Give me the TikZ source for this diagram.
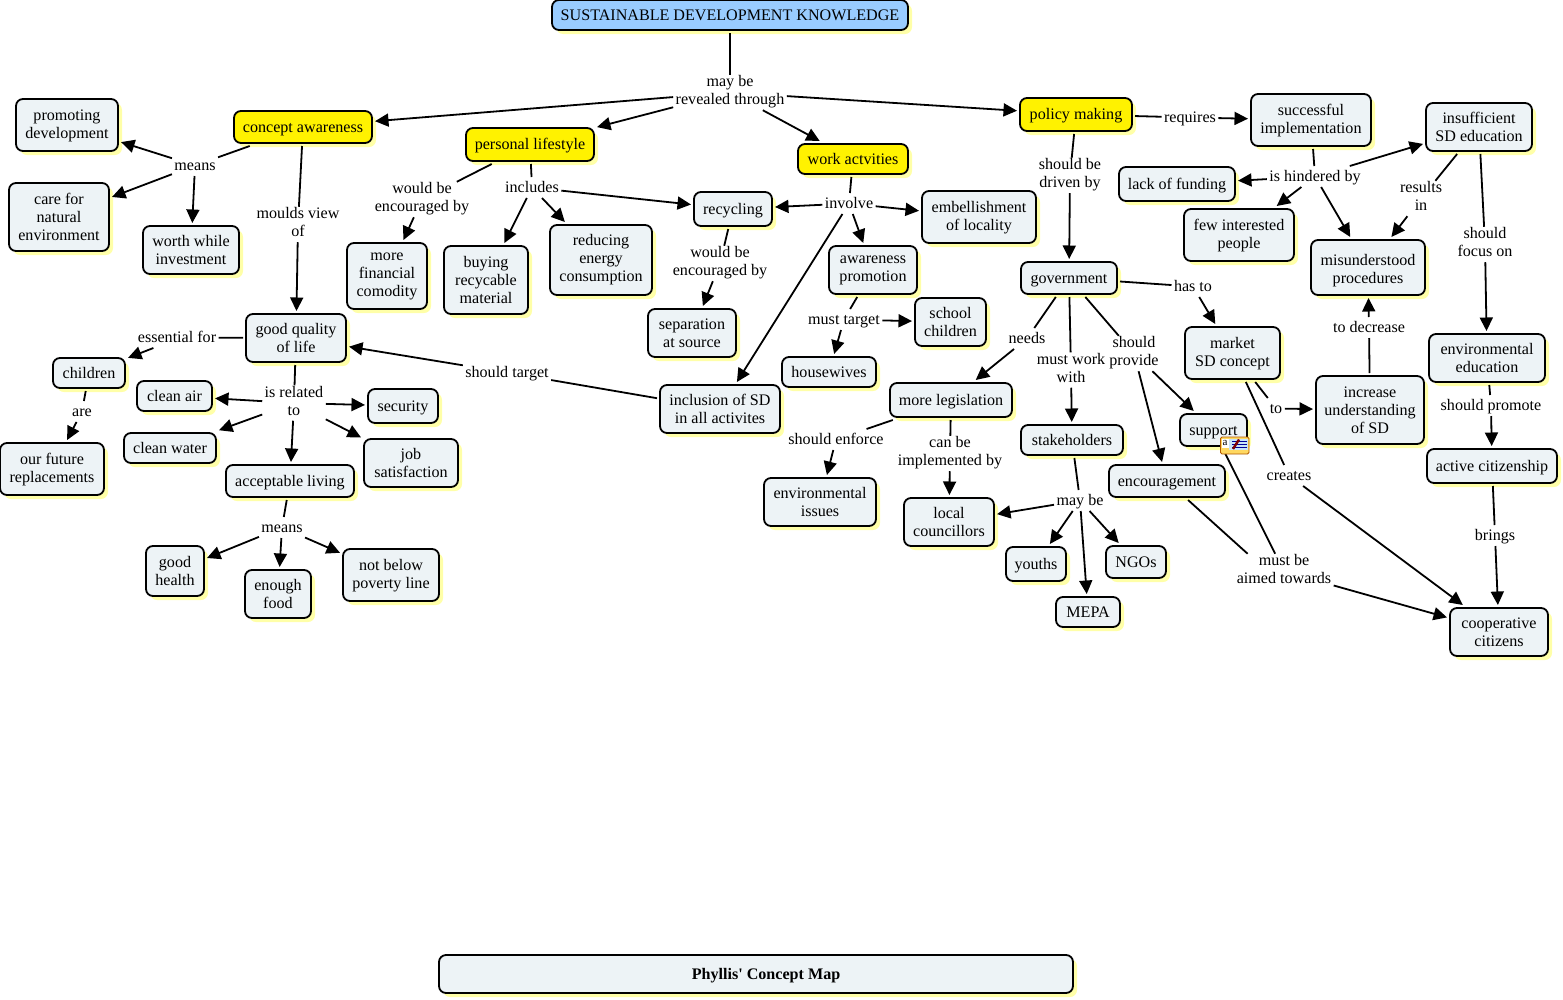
\documentclass[tikz,border=0pt]{standalone}
\usepackage{fontspec}
\newfontfamily\mapfont{Liberation Serif}
\usetikzlibrary{shadows, arrows.meta}
\definecolor{boxfill}{HTML}{EDF3F6}
\definecolor{boxshadow}{HTML}{FFFFA8}
\definecolor{topblue}{HTML}{99CCFF}
\definecolor{noteyellow}{HTML}{FFD860}
\definecolor{notepaper}{HTML}{C8E4F8}
\tikzset{
	linestruts/.style = {execute at begin node = {\rule{0pt}{14.7pt}}, execute at end node = {\rule[-4.3pt]{0pt}{4.3pt}}},
	twodown/.style = {text height = 29.7pt + 2pt * #1, text depth = 4.3pt},
	twodown/.default = 2,
	threedown/.style = {text height = 47.7pt + 2pt * #1, text depth = 4.3pt},
	threedown/.default = 2,
	mapbox/.style = {draw = black, line width = 1.8pt, rounded corners = 7pt, fill = boxfill, align = center,
		inner sep = 0pt, outer sep = 3pt, text = black, linestruts,
		general shadow = {fill = boxshadow, shadow xshift = 4pt, shadow yshift = -4pt}},
	size/.style 2 args = {minimum width = #1 pt, minimum height = #2 pt},
	linktext/.style = {align = center, inner sep = 0pt, outer xsep = 2.5pt, outer ysep = 1pt, linestruts},
	plain/.style = {line width = 1.8pt},
	tip/.style = {line width = 1.8pt, ->}
}
\begin{document}
\begin{tikzpicture}[x = 1pt, y = -1pt, > = {Triangle[length = 13.5pt, width = 13pt]},
	font = \mapfont\fontsize{16.1}{18}\selectfont]
\useasboundingbox [fill = white] (0, 0) rectangle (1563, 999);

% Top of the map

\node [mapbox, size = {356}{30}, fill = topblue] (title) at (730, 15) {SUSTAINABLE DEVELOPMENT KNOWLEDGE};
\node [mapbox, size = {138}{32}, fill = yellow] (concept) at (303, 127) {concept awareness};
\node [mapbox, size = {128}{33}, fill = yellow] (personal) at (530, 144.5) {personal lifestyle};
\node [mapbox, size = {110}{30}, fill = yellow] (work) at (853, 159) {work actvities};
\node [mapbox, size = {112}{33}, fill = yellow] (policy) at (1076, 114.5) {policy making};
\node [mapbox, size = {634}{38}] (caption) at (756, 974) {\hspace*{20pt}\bfseries Phyllis' Concept Map};

% Left part

\node [mapbox, twodown = 1, size = {102}{52}] (promoting) at (67, 125) {promoting\\development};
\node [mapbox, threedown, size = {100}{68}] (care) at (59, 217) {care for\\natural\\environment};
\node [mapbox, twodown, size = {96}{48}] (worth) at (191, 250) {worth while\\investment};
\node [mapbox, threedown = -1, size = {80}{66}] (financial) at (387, 276) {more\\financial\\comodity};
\node [mapbox, threedown, size = {84}{68}] (buying) at (486, 280) {buying\\recycable\\material};
\node [mapbox, threedown = 0, size = {102}{70}] (reducing) at (601, 260) {reducing\\energy\\consumption};
\node [mapbox, twodown, size = {100}{48}] (quality) at (296, 338) {good quality\\of life};
\node [mapbox, size = {72}{30}] (children) at (89, 373) {children};
\node [mapbox, size = {75}{30}] (air) at (174.5, 396) {clean air};
\node [mapbox, size = {70}{34}] (security) at (403, 406) {security};
\node [mapbox, size = {92}{30}] (water) at (170, 448) {clean water};
\node [mapbox, twodown, size = {94}{48}] (job) at (411, 463) {job\\satisfaction};
\node [mapbox, size = {128}{32}] (living) at (290, 481) {acceptable living};
\node [mapbox, twodown = 1, size = {104}{52}] (future) at (52, 469) {our future\\replacements};
\node [mapbox, twodown, size = {58}{50}] (health) at (175, 571) {good\\health};
\node [mapbox, twodown, size = {66}{48}] (food) at (278, 594) {enough\\food};
\node [mapbox, twodown = 1, size = {96}{52}] (poverty) at (391, 575) {not below\\poverty line};

% Middle part

\node [mapbox, size = {78}{34}] (recycling) at (733, 209) {recycling};
\node [mapbox, twodown = 1, size = {114}{52}] (locality) at (979, 217) {embellishment\\of locality};
\node [mapbox, twodown = -1, size = {88}{48}] (promotion) at (873, 270) {awareness\\promotion};
\node [mapbox, twodown, size = {88}{48}] (separation) at (692, 333) {separation\\at source};
\node [mapbox, twodown, size = {71}{48}] (school) at (950.5, 322) {school\\children};
\node [mapbox, size = {94}{30}] (housewives) at (829, 372) {housewives};
\node [mapbox, twodown, size = {120}{48}] (inclusion) at (720, 409) {inclusion of SD\\in all activites};

% Government part

\node [mapbox, size = {96}{32}] (government) at (1069, 278) {government};
\node [mapbox, size = {122}{34}] (legislation) at (951, 400) {more legislation};
\node [mapbox, size = {102}{30}] (stakeholders) at (1072, 440) {stakeholders};
\node [mapbox, size = {67}{32}] (support) at (1213.5, 430) {support};
\node [mapbox, size = {116}{32}] (encouragement) at (1167, 481) {encouragement};
\node [mapbox, twodown = 1, size = {95}{52}] (market) at (1232.5, 353) {market\\SD concept};
\node [mapbox, threedown, size = {108}{68}] (understanding) at (1370, 410) {increase\\understanding\\of SD};
\node [mapbox, twodown, size = {112}{48}] (issues) at (820, 502) {environmental\\issues};
\node [mapbox, twodown, size = {90}{48}] (councillors) at (949, 522) {local\\councillors};
\node [mapbox, size = {60}{34}] (youths) at (1036, 564) {youths};
\node [mapbox, size = {60}{32}] (ngos) at (1136, 562) {NGOs};
\node [mapbox, size = {64}{30}] (mepa) at (1088, 612) {MEPA};

% Right part

\node [mapbox, twodown = 1, size = {120}{52}] (successful) at (1311, 120) {successful\\implementation};
\node [mapbox, twodown, size = {106}{48}] (insufficient) at (1479, 127) {insufficient\\SD education};
\node [mapbox, size = {116}{34}] (funding) at (1177, 184) {lack of funding};
\node [mapbox, twodown = 1, size = {110}{52}] (few) at (1239, 235) {few interested\\people};
\node [mapbox, twodown = 3, size = {114}{55}] (procedures) at (1368, 267.5) {misunderstood\\procedures};
\node [mapbox, twodown, size = {116}{48}] (education) at (1487, 358) {environmental\\education};
\node [mapbox, size = {130}{34}] (citizenship) at (1492, 466) {active citizenship};
\node [mapbox, twodown, size = {98}{48}] (cooperative) at (1499, 632) {cooperative\\citizens};

% Linking phrases

\node [linktext] (revealed) at (730, 92.5) {may be\\revealed through};
\node [linktext] (means) at (195, 165.5) {means};
\node [linktext] (moulds) at (298, 224.5) {moulds view\\of};
\node [linktext] (encouragedA) at (422, 199.5) {would be\\encouraged by};
\node [linktext] (includes) at (532, 187.5) {includes};
\node [linktext] (involve) at (849, 203.5) {involve};
\node [linktext] (encouragedB) at (720, 263.5) {would be\\encouraged by};
\node [linktext] (musttarget) at (844, 319.5) {must target};
\node [linktext] (essential) at (177, 337.5) {essential for};
\node [linktext] (related) at (294, 403) {is related\\to};
\node [linktext] (are) at (82, 411.5) {are};
\node [linktext] (shouldtarget) at (507, 372.5) {should target};
\node [linktext] (meansB) at (282, 527.5) {means};
\node [linktext] (driven) at (1070, 175.5) {should be\\driven by};
\node [linktext] (requires) at (1190, 117.5) {requires};
\node [linktext] (hindered) at (1315, 176.5) {is hindered by};
\node [linktext] (results) at (1421, 198.5) {results\\in};
\node [linktext] (focus) at (1485, 244.5) {should\\focus on};
\node [linktext] (hasto) at (1193, 286.5) {has to};
\node [linktext] (needs) at (1027, 338.5) {needs};
\node [linktext] (workwith) at (1071, 370) {must work\\with};
\node [linktext] (provide) at (1134, 353.5) {should\\provide};
\node [linktext] (to) at (1276, 408.5) {to};
\node [linktext] (decrease) at (1369, 327.5) {to decrease};
\node [linktext] (promote) at (1491, 405.5) {should promote};
\node [linktext] (creates) at (1289, 475.5) {creates};
\node [linktext] (enforce) at (836, 439.5) {should enforce};
\node [linktext] (implemented) at (950, 453.5) {can be\\implemented by};
\node [linktext] (maybe) at (1080, 500.5) {may be};
\node [linktext] (aimed) at (1284, 571.5) {must be\\aimed towards};
\node [linktext] (brings) at (1495, 535.5) {brings};

% Connectors of the top and left

\draw [plain] (title) -- (revealed);
\draw [tip] (revealed) -- (concept);
\draw [tip] (revealed) -- (personal);
\draw [tip] (revealed) -- (work);
\draw [tip] (revealed) -- (policy);

\draw [plain] (concept) -- (means);
\draw [tip] (means) -- (promoting);
\draw [tip] (means) -- (care);
\draw [tip] (means) -- (worth);
\draw [plain] (concept) -- (moulds);
\draw [tip] (moulds) -- (quality);

\draw [plain] (personal) -- (encouragedA);
\draw [tip] (encouragedA) -- (financial);
\draw [plain] (personal) -- (includes);
\draw [tip] (includes) -- (buying);
\draw [tip] (includes) -- (reducing);
\draw [tip] (includes) -- (recycling);

\draw [plain] (quality) -- (essential);
\draw [tip] (essential.204) -- (children);
\draw [plain] (children) -- (are);
\draw [tip] (are) -- (future);
\draw [plain] (quality) -- (related);
\draw [tip] (related) -- (air);
\draw [tip] (related) -- (security);
\draw [tip] (related) -- (water);
\draw [tip] (related) -- (job);
\draw [tip] (related) -- (living);
\draw [plain] (living) -- (meansB);
\draw [tip] (meansB) -- (health);
\draw [tip] (meansB) -- (food);
\draw [tip] (meansB) -- (poverty);

% Connectors of the middle

\draw [plain] (work) -- (involve);
\draw [tip] (involve) -- (recycling);
\draw [tip] (involve) -- (locality);
\draw [tip] (involve) -- (promotion);
\draw [tip] (involve) -- (inclusion);
\draw [plain] (recycling) -- (encouragedB);
\draw [tip] (encouragedB) -- (separation);
\draw [plain] (promotion) -- (musttarget);
\draw [tip] (musttarget) -- (school);
\draw [tip] (musttarget) -- (housewives);
\draw [plain] (inclusion) -- (shouldtarget);
\draw [tip] (shouldtarget) -- (quality);

% Connectors of the government

\draw [plain] (policy) -- (driven);
\draw [tip] (driven) -- (government);
\draw [plain] (government) -- (hasto);
\draw [tip] (hasto) -- (market);
\draw [plain] (government) -- (needs);
\draw [tip] (needs) -- (legislation);
\draw [plain] (government) -- (workwith);
\draw [tip] (workwith) -- (stakeholders);
\draw [plain] (government) -- (provide);
\draw [tip] (provide) -- (support);
\draw [tip] (provide) -- (encouragement);
\draw [plain] (legislation) -- (enforce);
\draw [tip] (enforce) -- (issues);
\draw [plain] (legislation) -- (implemented);
\draw [tip] (implemented) -- (councillors);
\draw [plain] (stakeholders) -- (maybe);
\draw [tip] (maybe) -- (councillors);
\draw [tip] (maybe) -- (youths);
\draw [tip] (maybe) -- (ngos);
\draw [tip] (maybe) -- (mepa);
\draw [plain] (market) -- (to);
\draw [tip] (to) -- (understanding);
\draw [plain] (market) -- (creates);
\draw [tip] (creates) -- (cooperative);
\draw [plain] (support) -- (aimed);
\draw [plain] (encouragement) -- (aimed.154);
\draw [tip] (aimed) -- (cooperative);

% Connectors of the right

\draw [plain] (policy) -- (requires);
\draw [tip] (requires) -- (successful);
\draw [plain] (successful) -- (hindered);
\draw [tip] (hindered) -- (funding);
\draw [tip] (hindered) -- (few);
\draw [tip] (hindered) -- (procedures);
\draw [tip] (hindered) -- (insufficient);
\draw [plain] (insufficient) -- (results);
\draw [tip] (results) -- (procedures);
\draw [plain] (insufficient) -- (focus);
\draw [tip] (focus) -- (education);
\draw [plain] (understanding) -- (decrease);
\draw [tip] (decrease) -- (procedures);
\draw [plain] (education) -- (promote);
\draw [tip] (promote) -- (citizenship);
\draw [plain] (citizenship) -- (brings);
\draw [tip] (brings) -- (cooperative);

% Note icon on support

\filldraw [draw = orange!70!black, fill = noteyellow, line width = 0.8pt, rounded corners = 1.5pt] (1220.5, 437) rectangle (1249, 454);
\fill [white] (1222, 438.5) rectangle (1228.5, 448);
\fill [notepaper] (1229, 438.5) rectangle (1247.5, 449.5);
\draw [blue!60!black, line width = 0.8pt] (1232, 441) -- (1247, 441) (1232, 444) -- (1247, 444) (1232, 447) -- (1247, 447);
\draw [red!50!black, line width = 2.4pt] (1239, 439.5) -- (1233, 449);
\node [inner sep = 0pt, font = \mapfont\fontsize{11}{11}\selectfont] (notetext) at (1225, 443) {a};

\end{tikzpicture}
\end{document}
